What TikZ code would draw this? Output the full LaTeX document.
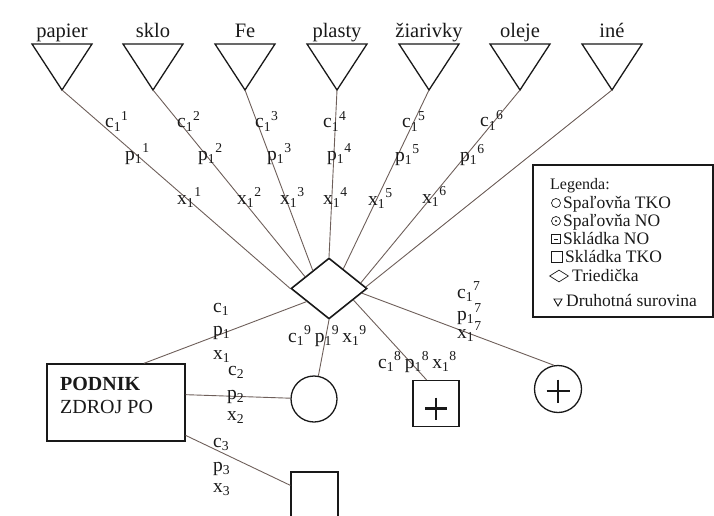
\documentclass[tikz,border=0pt]{standalone}
\usepackage{fontspec}
\setmainfont{Liberation Serif}
\usetikzlibrary{shapes.geometric,calc}
\definecolor{linec}{RGB}{110,95,90}
\definecolor{ink}{RGB}{25,25,25}
\newcommand\cpx[3]{#1\textsubscript{#2}\textsuperscript{#3}}
\newcommand\cs[2]{#1\textsubscript{#2}}
\begin{document}
\begin{tikzpicture}[x=1pt,y=-1pt,
  conn/.style={draw=linec, line width=0.9pt},
  shp/.style={draw=ink, line width=1.3pt},
  txt/.style={inner sep=0pt, text=ink, font=\fontsize{19.5}{22}\selectfont},
  lbl/.style={txt, anchor=base west},
  toplbl/.style={inner sep=0pt, text=ink, anchor=base, font=\fontsize{20.5}{23}\selectfont},
  leg/.style={inner sep=0pt, text=ink, anchor=base west, font=\fontsize{17.5}{19}\selectfont},
  lsym/.style={draw=ink, line width=0.7pt}]
\useasboundingbox (0,0) rectangle (714,516);

% triangles (secondary raw materials)
\foreach \x/\n/\t in {62/1/papier,153/2/sklo,245/3/Fe,337/4/plasty,429/5/žiarivky,520/6/oleje,612/7/iné}{
  \node[toplbl] (lab\n) at (\x,37.5) {\t};
  \coordinate (t\n) at (\x,90);
  \draw[shp, line join=miter] (\x-30,44) -- (\x+30,44) -- (t\n) -- cycle;
}

% sorting plant
\node[diamond, draw=ink, line width=1.6pt, minimum width=76pt, minimum height=61pt, inner sep=0pt] (d) at (329,288.5) {};

% source
\node[shp, minimum width=138pt, minimum height=77pt, inner sep=0pt] (box) at (116,402.5) {};
\node[lbl, font=\fontsize{20}{22}\selectfont\bfseries] (pod) at (60,390) {PODNIK};
\node[lbl, font=\fontsize{20}{22}\selectfont] (zdr) at (60,413) {ZDROJ PO};

% destinations
\node[circle, shp, minimum size=46pt, inner sep=0pt] (c2) at (314,399) {};
\node[shp, minimum size=47pt, inner sep=0pt] (s3) at (314.5,495.5) {};
\node[shp, minimum size=46pt, inner sep=0pt] (s8) at (436,403.5) {};
\node[circle, shp, minimum size=47pt, inner sep=0pt] (c7) at (558,389) {};
\draw[draw=ink, line width=2.2pt] ($(s8)+(-11,5)$) -- ($(s8)+(11,5)$) ($(s8)+(0,-6)$) -- ($(s8)+(0,16)$);
\draw[draw=ink, line width=2.2pt] ($(c7)+(-11.5,2)$) -- ($(c7)+(11.5,2)$) ($(c7)+(0,-9.5)$) -- ($(c7)+(0,13.5)$);

% connectors from triangles to diamond
\draw[conn] (t1) -- (d.west);
\draw[conn] (t2) -- ($(d.west)!0.38!(d.north)$);
\draw[conn] (t3) -- ($(d.west)!0.58!(d.north)$);
\draw[conn] (t4) -- (d.north);
\draw[conn] (t5) -- ($(d.north)!0.37!(d.east)$);
\draw[conn] (t6) -- ($(d.north)!0.82!(d.east)$);
\draw[conn] (t7) -- ($(d.north)!0.95!(d.east)$);

% other connectors
\draw[conn] ($(box.north west)!0.7!(box.north east)$) -- ($(d.west)!0.42!(d.south)$);
\draw[conn] ($(box.north east)!0.4!(box.south east)$) -- (c2);
\draw[conn] ($(box.north east)!0.92!(box.south east)$) -- ($(s3.north west)!0.29!(s3.south west)$);
\draw[conn] (d.south) -- (c2);
\draw[conn] ($(d.south)!0.63!(d.east)$) -- ($(s8.north west)!0.3!(s8.north east)$);
\draw[conn] ($(d.east)!0.15!(d.south)$) -- (c7.100);

% labels on lines 1-6
\node[lbl] (c11) at (105,128) {\cpx{c}{1}{1}};
\node[lbl] (p11) at (125,160) {\cpx{p}{1}{1}};
\node[lbl] (x11) at (177,204) {\cpx{x}{1}{1}};
\node[lbl] (c12) at (177,128) {\cpx{c}{1}{2}};
\node[lbl] (p12) at (198,160) {\cpx{p}{1}{2}};
\node[lbl] (x12) at (237,204) {\cpx{x}{1}{2}};
\node[lbl] (c13) at (255,128) {\cpx{c}{1}{3}};
\node[lbl] (p13) at (267,160) {\cpx{p}{1}{3}};
\node[lbl] (x13) at (280,204) {\cpx{x}{1}{3}};
\node[lbl] (c14) at (323,128) {\cpx{c}{1}{4}};
\node[lbl] (p14) at (327,160) {\cpx{p}{1}{4}};
\node[lbl] (x14) at (323,204) {\cpx{x}{1}{4}};
\node[lbl] (c15) at (402,128) {\cpx{c}{1}{5}};
\node[lbl] (p15) at (395,161) {\cpx{p}{1}{5}};
\node[lbl] (x15) at (368,205) {\cpx{x}{1}{5}};
\node[lbl] (c16) at (480,127) {\cpx{c}{1}{6}};
\node[lbl] (p16) at (460,161) {\cpx{p}{1}{6}};
\node[lbl] (x16) at (422,203) {\cpx{x}{1}{6}};

% labels 7, 8, 9
\node[lbl] (c17) at (457,298) {\cpx{c}{1}{7}};
\node[lbl] (p17) at (457,320) {\cpx{p}{1}{7}};
\node[lbl] (x17) at (457,338) {\cpx{x}{1}{7}};
\node[lbl] (l8) at (378,368) {\cpx{c}{1}{8}\,\cpx{p}{1}{8}\,\cpx{x}{1}{8}};
\node[lbl] (l9) at (288,342) {\cpx{c}{1}{9}\,\cpx{p}{1}{9}\,\cpx{x}{1}{9}};

% labels near source
\node[lbl] (c1) at (213,312) {\cs{c}{1}};
\node[lbl] (p1) at (213,335) {\cs{p}{1}};
\node[lbl] (x1) at (213,359) {\cs{x}{1}};
\node[lbl] (c2l) at (228,375) {\cs{c}{2}};
\node[lbl] (p2) at (227,399) {\cs{p}{2}};
\node[lbl] (x2) at (227,420) {\cs{x}{2}};
\node[lbl] (c3) at (213,447) {\cs{c}{3}};
\node[lbl] (p3) at (213,471) {\cs{p}{3}};
\node[lbl] (x3) at (213,492) {\cs{x}{3}};

% legend
\node[draw=ink, line width=1.3pt, minimum width=180pt, minimum height=152pt, inner sep=0pt] (legbox) at (623,241) {};
\node[leg, font=\fontsize{16}{18}\selectfont] (lg0) at (550,189) {Legenda:};
\node[circle, lsym, minimum size=9pt, inner sep=0pt] (ls1) at (556,203) {};
\node[leg] (lg1) at (563,208) {Spaľovňa TKO};
\node[circle, lsym, minimum size=9pt, inner sep=0pt] (ls2) at (556,221) {};
\fill[ink] (ls2) circle (1.1pt);
\node[leg] (lg2) at (563,226) {Spaľovňa NO};
\node[lsym, minimum size=9pt, inner sep=0pt] (ls3) at (556,239) {};
\draw[ink, line width=0.7pt] ($(ls3)+(-2,0)$) -- ($(ls3)+(2,0)$);
\node[leg] (lg3) at (563,244) {Skládka NO};
\node[lsym, minimum size=11pt, inner sep=0pt] (ls4) at (557,257) {};
\node[leg] (lg4) at (565,262) {Skládka TKO};
\node[diamond, lsym, minimum width=19pt, minimum height=12pt, inner sep=0pt] (ls5) at (559,276) {};
\node[leg] (lg5) at (572,281) {Triedička};
\coordinate (ls6) at (558,306);
\draw[ink, line width=0.9pt, line join=miter] ($(ls6)+(-4,-7)$) -- ($(ls6)+(4,-7)$) -- (ls6) -- cycle;
\node[leg] (lg6) at (566,306) {Druhotná surovina};
\end{tikzpicture}
\end{document}
